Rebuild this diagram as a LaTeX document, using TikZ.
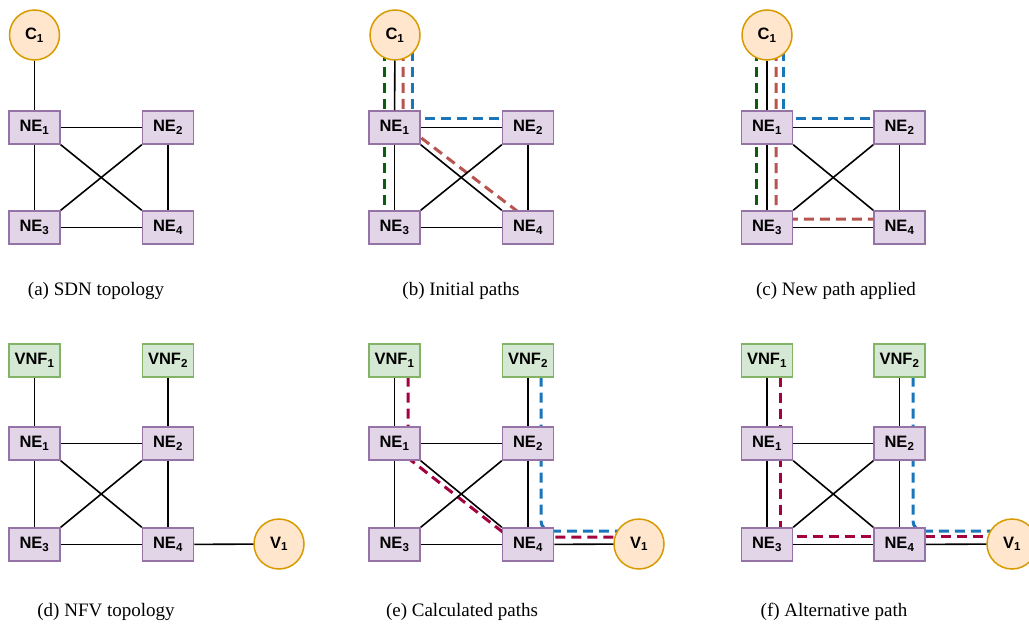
\documentclass[tikz,border=0pt]{standalone}
\usepackage{fontspec}
\setmainfont{Liberation Serif}
\newfontfamily\labelfont{Liberation Sans}
\usetikzlibrary{calc,backgrounds}

\definecolor{nefill}{HTML}{E1D5E7}
\definecolor{nestroke}{HTML}{9673A6}
\definecolor{vnffill}{HTML}{D5E8D4}
\definecolor{vnfstroke}{HTML}{82B366}
\definecolor{hostfill}{HTML}{FFE6CC}
\definecolor{hoststroke}{HTML}{D79B00}
\definecolor{pathgreen}{HTML}{0B5D0B}
\definecolor{pathred}{HTML}{B85450}
\definecolor{pathblue}{HTML}{1A75BB}
\definecolor{pathcrimson}{HTML}{A50040}

\tikzset{
  x=1pt, y=-1pt,
  ne/.style={draw=nestroke, fill=nefill, line width=1.5pt, minimum width=51pt,
    minimum height=33pt, inner sep=0pt, font=\labelfont\bfseries\fontsize{16.5}{16.5}\selectfont},
  vnf/.style={ne, draw=vnfstroke, fill=vnffill},
  host/.style={circle, draw=hoststroke, fill=hostfill, line width=1.5pt,
    minimum size=50pt, inner sep=0pt, font=\labelfont\bfseries\fontsize{16.5}{16.5}\selectfont},
  link/.style={line width=1.6pt, black},
  route/.style={line width=3pt, draw=#1, dash pattern=on 10pt off 6pt},
  caption/.style={anchor=base, font=\fontsize{19}{19}\selectfont},
}
\newcommand{\sub}[2]{#1\textsubscript{#2}}

\begin{document}
\begin{tikzpicture}
\useasboundingbox (0,0) rectangle (1029,626);
\clip (0,0) rectangle (1029,626);

% ---------------- (a) SDN topology ----------------
\node[host] (ac1) at (34.5,35) {\sub{C}{1}};
\node[ne] (ane1) at (34.5,127.5) {\sub{NE}{1}};
\node[ne] (ane2) at (168,127.5) {\sub{NE}{2}};
\node[ne] (ane3) at (34.5,227.5) {\sub{NE}{3}};
\node[ne] (ane4) at (168,227.5) {\sub{NE}{4}};
\draw[link] (ac1) -- (ane1);
\draw[link] (ane1) -- (ane2);
\draw[link] (ane1) -- (ane3);
\draw[link] (ane2) -- (ane4);
\draw[link] (ane3) -- (ane4);
\draw[link] (ane1.south east) -- (ane4.north west);
\draw[link] (ane2.south west) -- (ane3.north east);
\node[caption] (capa) at (96,295) {(a) SDN topology};

% ---------------- (b) Initial paths ----------------
\node[host] (bc1) at (395,35) {\sub{C}{1}};
\node[ne] (bne1) at (394.5,127.5) {\sub{NE}{1}};
\node[ne] (bne2) at (528,127.5) {\sub{NE}{2}};
\node[ne] (bne3) at (394.5,227.5) {\sub{NE}{3}};
\node[ne] (bne4) at (528,227.5) {\sub{NE}{4}};
\begin{scope}[on background layer]
  \draw[route=pathgreen] ($(bc1)+(-11,0)$) -- ($(bne3)+(-10.5,0)$);
  \draw[route=pathred] ($(bc1)+(8,0)$) -- ($(bne1)+(8.5,-3.5)$) -- ($(bne4)+(8,-2)$);
  \draw[route=pathblue] ($(bc1)+(17,0)$) -- ($(bne1)+(17.5,-9.5)$) -- ($(bne2)+(0,-9.5)$);
\end{scope}
\draw[link] (bc1) -- (bne1);
\draw[link] (bne1) -- (bne2);
\draw[link] (bne1) -- (bne3);
\draw[link] (bne2) -- (bne4);
\draw[link] (bne3) -- (bne4);
\draw[link] (bne1.south east) -- (bne4.north west);
\draw[link] (bne2.south west) -- (bne3.north east);
\node[caption] (capb) at (461,295) {(b) Initial paths};

% ---------------- (c) New path applied ----------------
\node[host] (cc1) at (767,35) {\sub{C}{1}};
\node[ne] (cne1) at (767,127.5) {\sub{NE}{1}};
\node[ne] (cne2) at (899.5,127.5) {\sub{NE}{2}};
\node[ne] (cne3) at (767,227.5) {\sub{NE}{3}};
\node[ne] (cne4) at (899.5,227.5) {\sub{NE}{4}};
\begin{scope}[on background layer]
  \draw[route=pathgreen] ($(cc1)+(-11,0)$) -- ($(cne3)+(-11,0)$);
  \draw[route=pathred, rounded corners=9pt] ($(cc1)+(9,0)$) -- ($(cne3)+(9,-8.5)$) -- ($(cne4)+(0,-8.5)$);
  \draw[route=pathblue] ($(cc1)+(16,0)$) -- ($(cne1)+(16,-9.5)$) -- ($(cne2)+(0,-9.5)$);
\end{scope}
\draw[link] (cc1) -- (cne1);
\draw[link] (cne1) -- (cne2);
\draw[link] (cne1) -- (cne3);
\draw[link] (cne2) -- (cne4);
\draw[link] (cne3) -- (cne4);
\draw[link] (cne1.south east) -- (cne4.north west);
\draw[link] (cne2.south west) -- (cne3.north east);
\node[caption] (capc) at (836,295) {(c) New path applied};

% ---------------- (d) NFV topology ----------------
\node[vnf] (dv1) at (34.5,360.5) {\sub{VNF}{1}};
\node[vnf] (dv2) at (168,360.5) {\sub{VNF}{2}};
\node[ne] (dne1) at (34.5,443.5) {\sub{NE}{1}};
\node[ne] (dne2) at (168,443.5) {\sub{NE}{2}};
\node[ne] (dne3) at (34.5,544.5) {\sub{NE}{3}};
\node[ne] (dne4) at (168,544.5) {\sub{NE}{4}};
\node[host] (dh1) at (279,544) {\sub{V}{1}};
\draw[link] (dv1) -- (dne1);
\draw[link] (dv2) -- (dne2);
\draw[link] (dne1) -- (dne2);
\draw[link] (dne1) -- (dne3);
\draw[link] (dne2) -- (dne4);
\draw[link] (dne3) -- (dne4);
\draw[link] (dne4) -- (dh1);
\draw[link] (dne1.south east) -- (dne4.north west);
\draw[link] (dne2.south west) -- (dne3.north east);
\node[caption] (capd) at (106,616) {(d) NFV topology};

% ---------------- (e) Calculated paths ----------------
\node[vnf] (ev1) at (394.5,360.5) {\sub{VNF}{1}};
\node[vnf] (ev2) at (528,360.5) {\sub{VNF}{2}};
\node[ne] (ene1) at (394.5,443.5) {\sub{NE}{1}};
\node[ne] (ene2) at (528,443.5) {\sub{NE}{2}};
\node[ne] (ene3) at (394.5,544.5) {\sub{NE}{3}};
\node[ne] (ene4) at (528,544.5) {\sub{NE}{4}};
\node[host] (eh1) at (639,544) {\sub{V}{1}};
\begin{scope}[on background layer]
  \draw[route=pathcrimson] ($(ev1)+(13.5,0)$) -- ($(ene1)+(13.5,14.5)$) -- ($(ene4)+(-19,-7.5)$) -- ($(eh1)+(0,-7)$);
  \draw[route=pathblue, rounded corners=10pt] ($(ev2)+(13,0)$) -- ($(ene4)+(13,-13.5)$) -- ($(eh1)+(0,-13)$);
\end{scope}
\draw[link] (ev1) -- (ene1);
\draw[link] (ev2) -- (ene2);
\draw[link] (ene1) -- (ene2);
\draw[link] (ene1) -- (ene3);
\draw[link] (ene2) -- (ene4);
\draw[link] (ene3) -- (ene4);
\draw[link] (ene4) -- (eh1);
\draw[link] (ene1.south east) -- (ene4.north west);
\draw[link] (ene2.south west) -- (ene3.north east);
\node[caption] (cape) at (462,616) {(e) Calculated paths};

% ---------------- (f) Alternative path ----------------
\node[vnf] (fv1) at (767,360.5) {\sub{VNF}{1}};
\node[vnf] (fv2) at (899.5,360.5) {\sub{VNF}{2}};
\node[ne] (fne1) at (767,443.5) {\sub{NE}{1}};
\node[ne] (fne2) at (899.5,443.5) {\sub{NE}{2}};
\node[ne] (fne3) at (767,544.5) {\sub{NE}{3}};
\node[ne] (fne4) at (899.5,544.5) {\sub{NE}{4}};
\node[host] (fh1) at (1012,544) {\sub{V}{1}};
\begin{scope}[on background layer]
  \draw[route=pathcrimson] ($(fv1)+(13,0)$) -- ($(fne3)+(13,-8.5)$) -- ($(fh1)+(0,-8)$);
  \draw[route=pathblue, rounded corners=10pt] ($(fv2)+(13.5,0)$) -- ($(fne4)+(13.5,-13.5)$) -- ($(fh1)+(0,-13)$);
\end{scope}
\draw[link] (fv1) -- (fne1);
\draw[link] (fv2) -- (fne2);
\draw[link] (fne1) -- (fne2);
\draw[link] (fne1) -- (fne3);
\draw[link] (fne2) -- (fne4);
\draw[link] (fne3) -- (fne4);
\draw[link] (fne4) -- (fh1);
\draw[link] (fne1.south east) -- (fne4.north west);
\draw[link] (fne2.south west) -- (fne3.north east);
\node[caption] (capf) at (834,616) {(f) Alternative path};
\end{tikzpicture}
\end{document}
